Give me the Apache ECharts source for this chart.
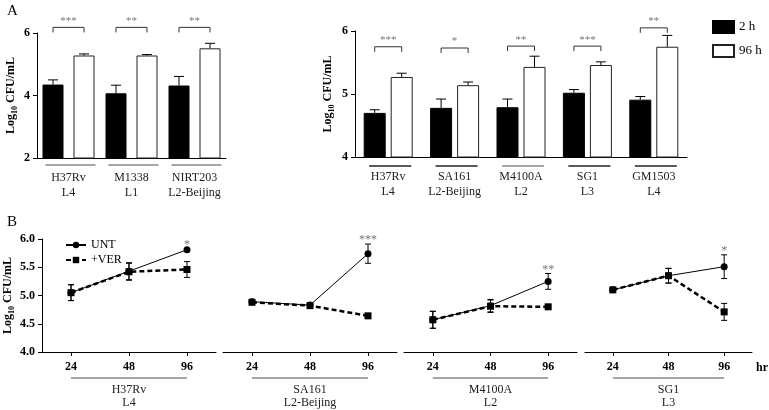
<!DOCTYPE html>
<html>
<head>
<meta charset="utf-8">
<script src="https://cdn.jsdelivr.net/npm/echarts@6/dist/echarts.min.js"></script>
<style>html,body{margin:0;padding:0;background:#fff;}#c{width:769px;height:410px;}</style>
</head>
<body>
<div id="c"></div>
<script>
// ---------- DATA ----------
// Panel A (left)
const strainsA1 = ['H37Rv', 'M1338', 'NIRT203'];
const lineagesA1 = ['L4', 'L1', 'L2-Beijing'];
const a1Mean2h = [4.35, 4.07, 4.32];
const a1Err2h = [0.15, 0.26, 0.29];
const a1Mean96h = [5.28, 5.28, 5.51];
const a1Err96h = [0.05, 0.03, 0.16];
const a1Sig = ['***', '**', '**'];
const a1SigLevel = [6.18, 6.18, 6.18];
const a1Ticks = [2, 4, 6];

// Panel A (right)
const strainsA2 = ['H37Rv', 'SA161', 'M4100A', 'SG1', 'GM1503'];
const lineagesA2 = ['L4', 'L2-Beijing', 'L2', 'L3', 'L4'];
const a2Mean2h = [4.70, 4.78, 4.79, 5.02, 4.91];
const a2Err2h = [0.05, 0.14, 0.13, 0.05, 0.05];
const a2Mean96h = [5.27, 5.14, 5.43, 5.46, 5.75];
const a2Err96h = [0.06, 0.05, 0.17, 0.05, 0.18];
const a2Sig = ['***', '*', '**', '***', '**'];
const a2SigLevel = [5.75, 5.73, 5.76, 5.76, 6.05];
const a2Ticks = [4, 5, 6];

// Panel B
const hours = ['24', '48', '96'];
const strainsB = ['H37Rv', 'SA161', 'M4100A', 'SG1'];
const lineagesB = ['L4', 'L2-Beijing', 'L2', 'L3'];
const untMean = [[5.05, 5.43, 5.81], [4.89, 4.83, 5.74], [4.57, 4.82, 5.25], [5.10, 5.35, 5.51]];
const untErr  = [[0.14, 0.15, 0.02], [0.03, 0.03, 0.17], [0.15, 0.11, 0.14], [0.02, 0.13, 0.21]];
const verMean = [[5.05, 5.42, 5.46], [4.88, 4.82, 4.64], [4.57, 4.81, 4.80], [5.10, 5.35, 4.71]];
const verErr  = [[0.14, 0.15, 0.14], [0.03, 0.03, 0.03], [0.15, 0.11, 0.04], [0.02, 0.13, 0.15]];
const bSig = ['*', '***', '**', '*'];
const bTicks = [4.0, 4.5, 5.0, 5.5, 6.0];

// ---------- STYLE / LAYOUT ----------
const FONT = '"Liberation Serif", "DejaVu Serif", serif';
const chart = echarts.init(document.getElementById('c'));

const yName = '{a|Log}{s|10}{a| CFU/mL}';
const yNameStyle = {
  fontFamily: FONT, fontWeight: 'bold', color: '#000',
  rich: {
    a: { fontFamily: FONT, fontWeight: 'bold', fontSize: 12, lineHeight: 16, verticalAlign: 'middle', color: '#000' },
    s: { fontFamily: FONT, fontWeight: 'bold', fontSize: 8, lineHeight: 16, verticalAlign: 'bottom', color: '#000', padding: [5, 0, 0, 0] }
  }
};

const grids = [
  { left: 37, top: 33, width: 189, height: 125 },
  { left: 355, top: 31, width: 332, height: 126 },
  { left: 42, top: 239, width: 174, height: 113 },
  { left: 223, top: 239, width: 174, height: 113 },
  { left: 404, top: 239, width: 173, height: 113 },
  { left: 585, top: 239, width: 173, height: 113 }
];

const axisLineBlack = { show: true, lineStyle: { color: '#000', width: 1 } };

function catAxisA(gi, strains, lineages, margin) {
  return {
    type: 'category', gridIndex: gi, data: strains.map((s, i) => s + '\n' + lineages[i]),
    boundaryGap: true, axisLine: axisLineBlack, axisTick: { show: false },
    axisLabel: { fontFamily: FONT, fontSize: 12, color: '#222', lineHeight: 15, margin: margin, interval: 0 }
  };
}

const xAxes = [
  catAxisA(0, strainsA1, lineagesA1, 12),
  catAxisA(1, strainsA2, lineagesA2, 12)
];
for (let k = 0; k < 4; k++) {
  const ax = {
    type: 'category', gridIndex: 2 + k, data: hours, boundaryGap: true,
    axisLine: axisLineBlack,
    axisTick: { show: true, alignWithLabel: true, length: 4, lineStyle: { color: '#000' } },
    axisLabel: { fontFamily: FONT, fontSize: 12, fontWeight: 'bold', color: '#000', margin: 9 }
  };
  if (k === 3) {
    ax.name = 'hr';
    ax.nameLocation = 'end';
    ax.nameGap = 4;
    ax.nameTextStyle = { fontFamily: FONT, fontSize: 12, fontWeight: 'bold', color: '#000', verticalAlign: 'top', padding: [10, 0, 0, 0] };
  }
  xAxes.push(ax);
}

function valAxis(gi, ticks, interval, nameGap, fmt, show) {
  return {
    type: 'value', gridIndex: gi, min: ticks[0], max: ticks[ticks.length - 1], interval: interval,
    show: show,
    axisLine: axisLineBlack,
    axisTick: { show: true, length: 4, lineStyle: { color: '#000' } },
    splitLine: { show: false },
    axisLabel: { fontFamily: FONT, fontSize: 12, fontWeight: 'bold', color: '#000', margin: 7, formatter: fmt },
    name: yName, nameLocation: 'middle', nameGap: nameGap, nameTextStyle: yNameStyle
  };
}
const yAxes = [
  valAxis(0, a1Ticks, 2, 18, v => String(v), true),
  valAxis(1, a2Ticks, 1, 19, v => String(v), true),
  valAxis(2, bTicks, 0.5, 25, v => v.toFixed(1), true),
  valAxis(3, bTicks, 0.5, 25, v => v.toFixed(1), false),
  valAxis(4, bTicks, 0.5, 25, v => v.toFixed(1), false),
  valAxis(5, bTicks, 0.5, 25, v => v.toFixed(1), false)
];

const series = [];

// ----- Panel A bars -----
function addBarPanel(gi, mean2, err2, mean96, err96, barW, gap, sig, sigLevel, ulHalf, ulColors) {
  series.push({
    name: '2 h', type: 'bar', xAxisIndex: gi, yAxisIndex: gi, data: mean2,
    barWidth: barW, barGap: (gap / barW * 100) + '%',
    itemStyle: { color: '#000', borderColor: '#000', borderWidth: 1 }, silent: true
  });
  series.push({
    name: '96 h', type: 'bar', xAxisIndex: gi, yAxisIndex: gi, data: mean96,
    barWidth: barW, barGap: (gap / barW * 100) + '%',
    itemStyle: { color: '#fff', borderColor: '#222', borderWidth: 1 }, silent: true
  });
  const off = (barW + gap) / 2;
  // error bars (upper)
  [[mean2, err2, -off], [mean96, err96, off]].forEach(([m, e, o]) => {
    series.push({
      type: 'custom', xAxisIndex: gi, yAxisIndex: gi, silent: true, clip: false, z: 3,
      data: m.map((v, i) => [i, v, v + e[i]]),
      renderItem: function (params, api) {
        const p0 = api.coord([api.value(0), api.value(1)]);
        const p1 = api.coord([api.value(0), api.value(2)]);
        const x = p0[0] + o;
        return { type: 'group', children: [
          { type: 'line', shape: { x1: x, y1: p0[1], x2: x, y2: p1[1] }, style: { stroke: '#000', lineWidth: 1 } },
          { type: 'line', shape: { x1: x - 5, y1: p1[1], x2: x + 5, y2: p1[1] }, style: { stroke: '#000', lineWidth: 1 } }
        ] };
      }
    });
  });
  // significance brackets
  series.push({
    type: 'custom', xAxisIndex: gi, yAxisIndex: gi, silent: true, clip: false, z: 3,
    data: sigLevel.map((v, i) => [i, v]),
    renderItem: function (params, api) {
      const p = api.coord([api.value(0), api.value(1)]);
      const x1 = p[0] - off, x2 = p[0] + off, y = p[1];
      return { type: 'group', children: [
        { type: 'polyline', shape: { points: [[x1, y + 5], [x1, y], [x2, y], [x2, y + 5]] }, style: { stroke: '#333', lineWidth: 1, fill: null } },
        { type: 'text', x: p[0], y: y - 1, style: { text: sig[params.dataIndex], fill: '#777', fontFamily: FONT, fontSize: 11, align: 'center', verticalAlign: 'bottom' } }
      ] };
    }
  });
  // category underlines
  series.push({
    type: 'custom', xAxisIndex: gi, yAxisIndex: gi, silent: true, clip: false, z: 3,
    data: mean2.map((v, i) => [i, yAxes[gi].min]),
    renderItem: function (params, api) {
      const p = api.coord([api.value(0), api.value(1)]);
      const y = p[1] + (gi === 0 ? 7 : 9);
      return { type: 'line', shape: { x1: p[0] - ulHalf + 2, y1: y, x2: p[0] + ulHalf + 2, y2: y },
        style: { stroke: ulColors[params.dataIndex], lineWidth: 1.3 } };
    }
  });
}
addBarPanel(0, a1Mean2h, a1Err2h, a1Mean96h, a1Err96h, 21, 10, a1Sig, a1SigLevel, 25, ['#888', '#888', '#888']);
addBarPanel(1, a2Mean2h, a2Err2h, a2Mean96h, a2Err96h, 22, 5, a2Sig, a2SigLevel, 21, ['#222', '#222', '#888', '#222', '#222']);

// ----- Panel B lines -----
for (let k = 0; k < 4; k++) {
  const gi = 2 + k;
  [[verMean[k], verErr[k]], [untMean[k], untErr[k]]].forEach(([m, e]) => {
    series.push({
      type: 'custom', xAxisIndex: gi, yAxisIndex: gi, silent: true, clip: false, z: 1,
      data: m.map((v, i) => [i, v - e[i], v + e[i]]),
      renderItem: function (params, api) {
        const p0 = api.coord([api.value(0), api.value(1)]);
        const p1 = api.coord([api.value(0), api.value(2)]);
        const x = p0[0];
        return { type: 'group', children: [
          { type: 'line', shape: { x1: x, y1: p0[1], x2: x, y2: p1[1] }, style: { stroke: '#000', lineWidth: 1 } },
          { type: 'line', shape: { x1: x - 3, y1: p0[1], x2: x + 3, y2: p0[1] }, style: { stroke: '#000', lineWidth: 1 } },
          { type: 'line', shape: { x1: x - 3, y1: p1[1], x2: x + 3, y2: p1[1] }, style: { stroke: '#000', lineWidth: 1 } }
        ] };
      }
    });
  });
  series.push({
    name: 'UNT', type: 'line', xAxisIndex: gi, yAxisIndex: gi, data: untMean[k],
    symbol: 'circle', symbolSize: 7, showAllSymbol: true, silent: true, z: 4,
    lineStyle: { color: '#000', width: 1 }, itemStyle: { color: '#000' }
  });
  series.push({
    name: '+VER', type: 'line', xAxisIndex: gi, yAxisIndex: gi, data: verMean[k],
    symbol: 'rect', symbolSize: 7, showAllSymbol: true, silent: true, z: 5,
    lineStyle: { color: '#000', width: 2.5, type: [5, 3] }, itemStyle: { color: '#000' }
  });
  // significance star
  series.push({
    type: 'custom', xAxisIndex: gi, yAxisIndex: gi, silent: true, clip: false, z: 6,
    data: [[2, Math.max(untMean[k][2] + untErr[k][2], verMean[k][2] + verErr[k][2])]],
    renderItem: function (params, api) {
      const p = api.coord([api.value(0), api.value(1)]);
      return { type: 'text', x: p[0], y: p[1] + 2, style: { text: bSig[k], fill: '#777', fontFamily: FONT, fontSize: 12, align: 'center', verticalAlign: 'bottom' } };
    }
  });
  // strain underline + labels
  series.push({
    type: 'custom', xAxisIndex: gi, yAxisIndex: gi, silent: true, clip: false, z: 6,
    data: [[0, 2, bTicks[0]]],
    renderItem: function (params, api) {
      const a = api.coord([api.value(0), api.value(2)]);
      const b = api.coord([api.value(1), api.value(2)]);
      const y = a[1] + 26;
      const cx = (a[0] + b[0]) / 2;
      return { type: 'group', children: [
        { type: 'line', shape: { x1: a[0], y1: y, x2: b[0], y2: y }, style: { stroke: '#888', lineWidth: 1.3 } },
        { type: 'text', x: cx, y: y + 12, style: { text: strainsB[k], fill: '#222', fontFamily: FONT, fontSize: 12, align: 'center', verticalAlign: 'middle' } },
        { type: 'text', x: cx, y: y + 25, style: { text: lineagesB[k], fill: '#222', fontFamily: FONT, fontSize: 12, align: 'center', verticalAlign: 'middle' } }
      ] };
    }
  });
}

const option = {
  backgroundColor: '#fff',
  animation: false,
  grid: grids,
  xAxis: xAxes,
  yAxis: yAxes,
  legend: [
    { data: ['2 h', '96 h'], orient: 'vertical', left: 707, top: 15, itemWidth: 21, itemHeight: 12, itemGap: 10,
      icon: 'rect', selectedMode: false, textStyle: { fontFamily: FONT, fontSize: 13, color: '#000' } },
    { data: ['UNT', '+VER'], orient: 'vertical', left: 60, top: 234, itemWidth: 20, itemHeight: 8, itemGap: 3,
      selectedMode: false, textStyle: { fontFamily: FONT, fontSize: 12, color: '#000' } }
  ],
  graphic: [
    { type: 'text', left: 7, top: 4, style: { text: 'A', fontFamily: FONT, fontSize: 15, fill: '#000' } },
    { type: 'text', left: 7, top: 215, style: { text: 'B', fontFamily: FONT, fontSize: 15, fill: '#000' } }
  ],
  series: series
};
chart.setOption(option);
</script>
</body>
</html>
